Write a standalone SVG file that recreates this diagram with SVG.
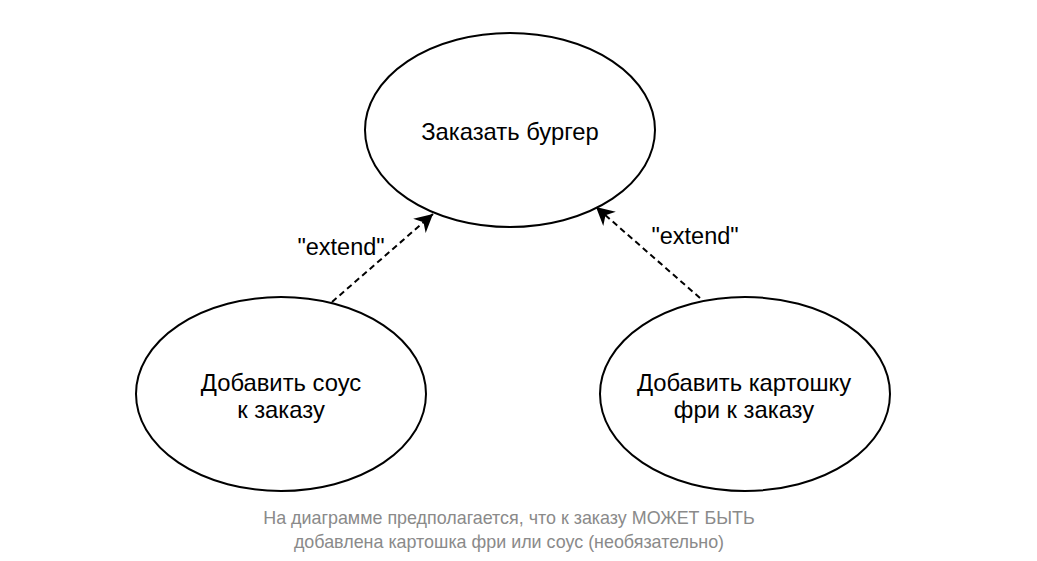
<svg xmlns="http://www.w3.org/2000/svg" width="1037" height="561" viewBox="0 0 1037 561">
<style>
.uc{fill:#fff;stroke:#000;stroke-width:2}
.t{font-family:"Liberation Sans",Arial,sans-serif;font-size:23.8px;fill:#000;text-anchor:middle}
.lbl{font-family:"Liberation Sans",Arial,sans-serif;font-size:23.5px;fill:#000;text-anchor:middle}
.cap{font-family:"Liberation Sans",Arial,sans-serif;font-size:17.9px;fill:#8a8a8a;text-anchor:middle}
.c{fill:none;stroke:#000;stroke-width:2;stroke-dasharray:6 4}
</style>
<defs>
<marker id="ah" viewBox="0 0 10 10" refX="10" refY="5" markerWidth="18" markerHeight="19" orient="auto" markerUnits="userSpaceOnUse" preserveAspectRatio="none">
<path d="M0,0 L10,5 L0,10 L3,5 Z" fill="#000"/>
</marker>
</defs>
<rect width="1037" height="561" fill="#fff"/>
<g id="connectors">
<line class="c" x1="332" y1="302" x2="433" y2="214" marker-end="url(#ah)"/>
<line class="c" x1="700" y1="298" x2="596" y2="207" marker-end="url(#ah)"/>
</g>
<g id="order-burger">
<ellipse class="uc" cx="510" cy="130" rx="145" ry="97"/>
<text class="t" x="510" y="140">Заказать бургер</text>
</g>
<g id="add-sauce">
<ellipse class="uc" cx="281" cy="394" rx="145" ry="97"/>
<text class="t" x="281" y="391">Добавить соус</text>
<text class="t" x="281" y="418">к заказу</text>
</g>
<g id="add-fries">
<ellipse class="uc" cx="745" cy="394" rx="145" ry="97"/>
<text class="t" x="744" y="391">Добавить картошку</text>
<text class="t" x="744" y="418">фри к заказу</text>
</g>
<g id="labels">
<text class="lbl" x="341" y="255">"extend"</text>
<text class="lbl" x="695" y="244">"extend"</text>
</g>
<g id="caption">
<text class="cap" x="509" y="524">На диаграмме предполагается, что к заказу МОЖЕТ БЫТЬ</text>
<text class="cap" x="509" y="548">добавлена картошка фри или соус (необязательно)</text>
</g>
</svg>
